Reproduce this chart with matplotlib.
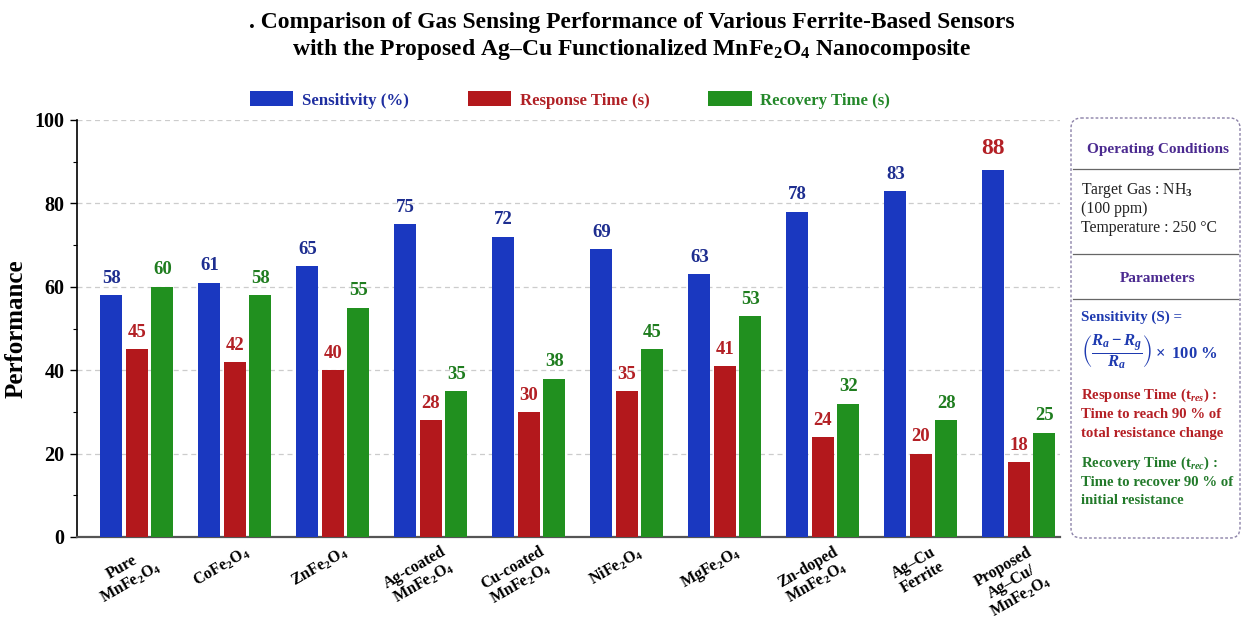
import matplotlib
matplotlib.use('Agg')
import matplotlib.pyplot as plt
import numpy as np
from matplotlib.patches import Patch, FancyBboxPatch

categories = ['Pure\nMnFe$_2$O$_4$', 'CoFe$_2$O$_4$', 'ZnFe$_2$O$_4$',
              'Ag-coated\nMnFe$_2$O$_4$', 'Cu-coated\nMnFe$_2$O$_4$',
              'NiFe$_2$O$_4$', 'MgFe$_2$O$_4$', 'Zn-doped\nMnFe$_2$O$_4$',
              'Ag–Cu\nFerrite', 'Proposed\nAg–Cu/\nMnFe$_2$O$_4$']
sensitivity = [58, 61, 65, 75, 72, 69, 63, 78, 83, 88]
response_time = [45, 42, 40, 28, 30, 35, 41, 24, 20, 18]
recovery_time = [60, 58, 55, 35, 38, 45, 53, 32, 28, 25]
series_names = ['Sensitivity (%)', 'Response Time (s)', 'Recovery Time (s)']

plt.rcParams['font.family'] = ['Liberation Serif', 'DejaVu Serif']
plt.rcParams['mathtext.fontset'] = 'custom'
plt.rcParams['mathtext.rm'] = 'Liberation Serif:bold'
plt.rcParams['mathtext.bf'] = 'Liberation Serif:bold'
plt.rcParams['mathtext.it'] = 'Liberation Serif:bold:italic'
plt.rcParams['mathtext.fallback'] = 'stix'

bar_colors = ['#1a38c0', '#b3181c', '#21901f']
label_colors = ['#1e2e90', '#b32025', '#1f7d1f']
legend_text_colors = ['#1e2ea0', '#b02025', '#24882a']

W, H = 1244, 626
fig = plt.figure(figsize=(W / 100, H / 100), dpi=100)
ax = fig.add_axes([77 / W, 1 - 537 / H, (1060 - 77) / W, (537 - 120) / H])

x = np.arange(len(categories))
bw = 0.225
offs = [-0.26, 0.0, 0.26]
data = [sensitivity, response_time, recovery_time]
for i, (vals, col) in enumerate(zip(data, bar_colors)):
    bars = ax.bar(x + offs[i], vals, width=bw, color=col, edgecolor='none', zorder=3)
    for j, (b, v) in enumerate(zip(bars, vals)):
        big = (i == 0 and j == len(vals) - 1)
        ax.annotate(str(v), (b.get_x() + b.get_width() / 2, v),
                    xytext=(0, 6 if not big else 8), textcoords='offset points',
                    ha='center', va='bottom', fontweight='bold',
                    fontsize=17 if big else 13.5,
                    color=label_colors[1] if big else label_colors[i], zorder=4)

ax.set_xlim(-0.61, 9.42)
ax.set_ylim(0, 100)
ax.set_yticks([0, 20, 40, 60, 80, 100])
ax.set_yticks([10, 30, 50, 70, 90], minor=True)
ax.tick_params(axis='y', which='major', labelsize=14.5, length=5, width=1, pad=4)
ax.tick_params(axis='y', which='minor', length=3, width=0.8)
for lab in ax.get_yticklabels():
    lab.set_fontweight('bold')
ax.grid(axis='y', linestyle=(0, (4, 3)), color='#cccccc', linewidth=0.9, zorder=0)
ax.set_axisbelow(True)
ax.spines['top'].set_visible(False)
ax.spines['right'].set_visible(False)
ax.spines['left'].set_linewidth(1.2)
ax.spines['bottom'].set_linewidth(1.6)
ax.spines['bottom'].set_color('#555555')
ax.set_ylabel('Performance', fontsize=18, fontweight='bold', labelpad=5)

ax.set_xticks(x + 0.1)
ax.set_xticklabels(categories, rotation=30, ha='right', va='top',
                   rotation_mode='anchor', fontsize=11.5, fontweight='bold',
                   multialignment='center', linespacing=1.05)
ax.tick_params(axis='x', length=0, pad=5)

fig.text(0.508, 1 - 12 / H, '. Comparison of Gas Sensing Performance of Various Ferrite-Based Sensors\n'
         'with the Proposed Ag–Cu Functionalized MnFe$_2$O$_4$ Nanocomposite',
         ha='center', va='top', fontsize=17, fontweight='bold', linespacing=1.25)

handles = [Patch(facecolor=c, edgecolor='none') for c in bar_colors]
leg = fig.legend(handles, series_names, loc='center', bbox_to_anchor=(570 / W, 1 - 100 / H),
                 ncol=3, frameon=False, handlelength=2.6, handleheight=1.0,
                 columnspacing=3.5, handletextpad=0.5,
                 prop={'family': 'Liberation Serif', 'weight': 'bold', 'size': 12.1})
for t, c in zip(leg.get_texts(), legend_text_colors):
    t.set_color(c)

# right information panel (pixel-based overlay)
ov = fig.add_axes([0, 0, 1, 1], zorder=5)
ov.set_xlim(0, W)
ov.set_ylim(H, 0)
ov.axis('off')
box = FancyBboxPatch((1071, 118), 1240 - 1071, 538 - 118,
                     boxstyle='round,pad=0,rounding_size=10',
                     facecolor='white', edgecolor='#8c82a8', linewidth=1.0,
                     linestyle=(0, (2, 1.5)))
ov.add_patch(box)
purple = '#4b2a90'
for yl in [169, 254, 299]:
    ov.plot([1073, 1238], [yl, yl], color='#666666', lw=0.9)
ov.text(1158, 149, 'Operating Conditions', ha='center', va='center', fontsize=11,
        fontweight='bold', color=purple)
ov.text(1158, 279, 'Parameters', ha='center', va='center', fontsize=11,
        fontweight='bold', color=purple)
tx = 1081
for yy, s in [(190, 'Target Gas : NH$_3$'), (209, '(100 ppm)'), (228, 'Temperature : 250 °C')]:
    ov.text(tx, yy, s, ha='left', va='center', fontsize=11.3, color='#222222')
blue_t = '#1e3ab0'
ov.text(tx, 317, 'Sensitivity (S) =', ha='left', va='center', fontsize=10.8,
        fontweight='bold', color=blue_t)
ov.text(tx, 352, r'$\left(\dfrac{R_a - R_g}{R_a}\right)\times$ 100 %', ha='left', va='center',
        fontsize=12, fontweight='bold', color=blue_t)
red_t = '#b52025'
for yy, s in [(395, 'Response Time (t$_{res}$) :'), (414, 'Time to reach 90 % of'),
              (433, 'total resistance change')]:
    ov.text(tx, yy, s, ha='left', va='center', fontsize=10.6, fontweight='bold', color=red_t)
green_t = '#227a2a'
for yy, s in [(463, 'Recovery Time (t$_{rec}$) :'), (482, 'Time to recover 90 % of'),
              (500, 'initial resistance')]:
    ov.text(tx, yy, s, ha='left', va='center', fontsize=10.6, fontweight='bold', color=green_t)

fig.savefig('out.png', dpi=100)
